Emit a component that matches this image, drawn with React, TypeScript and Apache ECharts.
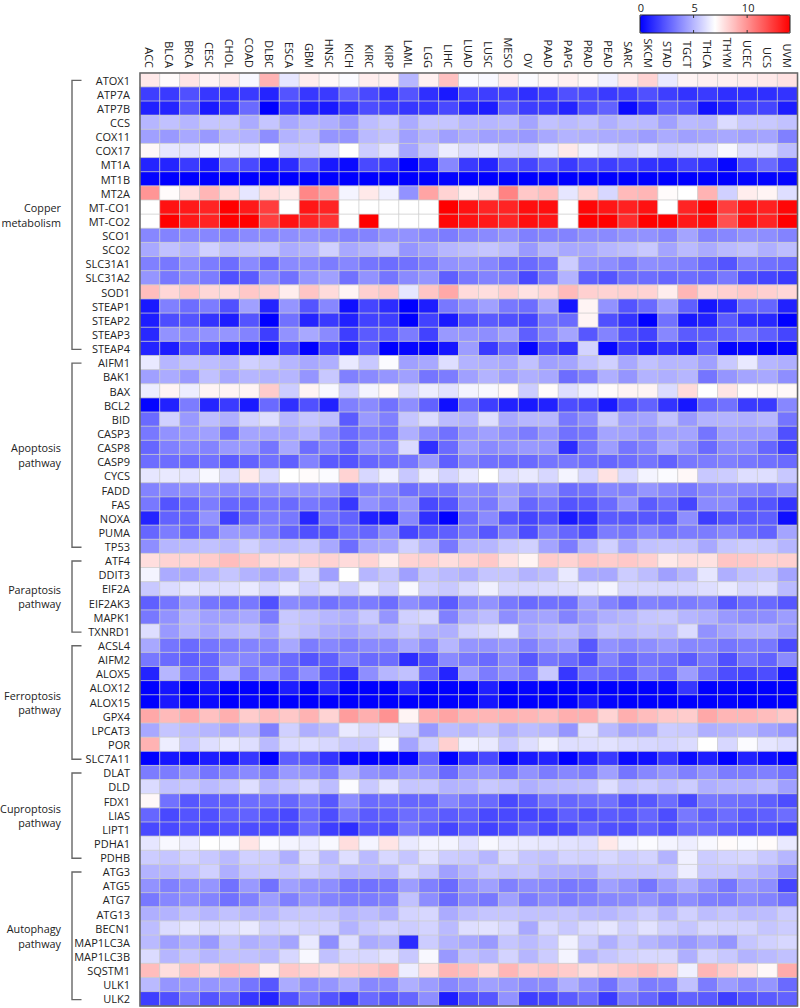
import React, { useEffect, useRef } from "react";
import * as echarts from "echarts";

const cancers = ["ACC","BLCA","BRCA","CESC","CHOL","COAD","DLBC","ESCA","GBM","HNSC","KICH","KIRC","KIRP","LAML","LGG","LIHC","LUAD","LUSC","MESO","OV","PAAD","PAPG","PRAD","PEAD","SARC","SKCM","STAD","TGCT","THCA","THYM","UCEC","UCS","UVM"];

const copperGenes = ["ATOX1","ATP7A","ATP7B","CCS","COX11","COX17","MT1A","MT1B","MT2A","MT-CO1","MT-CO2","SCO1","SCO2","SLC31A1","SLC31A2","SOD1","STEAP1","STEAP2","STEAP3","STEAP4"];
const apoptosisGenes = ["AIFM1","BAK1","BAX","BCL2","BID","CASP3","CASP8","CASP9","CYCS","FADD","FAS","NOXA","PUMA","TP53"];
const paraptosisGenes = ["ATF4","DDIT3","EIF2A","EIF2AK3","MAPK1","TXNRD1"];
const ferroptosisGenes = ["ACSL4","AIFM2","ALOX5","ALOX12","ALOX15","GPX4","LPCAT3","POR","SLC7A11"];
const cuproptosisGenes = ["DLAT","DLD","FDX1","LIAS","LIPT1","PDHA1","PDHB"];
const autophagyGenes = ["ATG3","ATG5","ATG7","ATG13","BECN1","MAP1LC3A","MAP1LC3B","SQSTM1","ULK1","ULK2"];

const copperValues = [
[7.6,7.1,7.7,7.3,7.6,6.8,9.1,6.3,7.5,7.2,6.9,7.5,7.4,5.0,7.4,8.7,6.9,6.8,7.5,6.9,7.2,7.4,7.2,6.6,7.6,8.2,6.4,7.3,7.4,7.4,7.5,7.6,7.8],
[1.7,1.6,2.2,1.5,1.4,1.6,1.0,2.3,1.5,1.6,2.7,2.0,1.4,2.3,1.3,0.7,1.8,1.7,1.7,1.3,1.6,2.2,2.0,1.6,1.7,2.2,1.7,1.4,1.6,1.3,1.3,1.3,1.4],
[0.9,1.0,2.3,0.7,1.4,2.9,0,1.6,1.0,0.7,1.4,2.1,1.8,1.5,1.5,2.0,1.1,0.8,2.5,1.7,1.6,1.0,2.1,2.7,0.3,1.3,2.6,2.2,0.5,0.9,1.9,1.9,0.8],
[5.0,5.3,5.0,5.4,5.4,4.7,5.4,4.6,5.0,4.8,4.2,5.2,5.5,4.7,5.4,5.4,5.0,5.0,5.1,4.5,5.3,5.1,5.3,4.8,5.2,5.1,4.4,5.1,5.0,6.0,5.5,5.5,5.3],
[4.4,4.2,4.6,4.2,5.0,4.9,3.9,4.9,5.2,4.1,4.1,5.1,5.3,4.4,4.9,4.4,4.7,4.4,4.4,4.2,4.6,4.9,4.8,4.7,4.6,4.3,4.7,4.4,4.5,4.6,4.4,4.5,3.5],
[7.2,6.3,6.2,6.7,6.4,6.2,6.9,5.6,5.6,6.0,7.0,5.6,6.2,4.5,5.5,6.5,6.0,6.3,5.8,5.7,6.4,7.6,6.6,6.2,5.8,6.2,5.7,5.9,6.1,6.8,6.1,6.0,5.2],
[1.0,1.0,1.6,0.7,2.6,2.0,0.7,1.2,2.6,0.7,0.3,2.0,1.6,0,1.0,3.7,1.6,1.0,2.5,1.9,2.5,1.6,2.1,1.7,1.9,1.4,1.2,1.8,1.4,0.2,2.1,2.9,1.8],
[0.1,0,0,0,0,0,0,0,0,0,0,0,0,0,0,0.1,0,0,0,0,0,0,0,0,0,0,0,0,0,0,0.1,0.1,0.1],
[9.9,7.1,7.9,9.0,8.0,6.3,8.0,7.6,10.3,9.6,6.7,7.6,6.6,4.0,9.5,8.2,7.5,7.9,10.4,8.5,8.8,6.3,8.2,5.9,8.9,9.0,7.1,7,9.1,5.7,7.5,7.3,6.1],
[7,13.5,13.3,13,14,13.3,12.3,7,13.4,13,7,7,7,7,7,14,13.5,13,13,13.6,13.6,7,13.8,13.4,13.1,13.5,7,13,13.8,12.3,13.3,13.1,13.8],
[7,14,13.3,13,14,14,12.3,13.5,13,12.6,7,14,7,7,7,13.8,13.5,13.3,13,13.6,13.4,7,14,14,12.8,14,14,13.3,13.6,11.8,13.4,13,14],
[3.7,3.6,3.8,3.7,3.5,3.8,3.8,3.9,4.0,3.8,3.6,3.6,4.0,4.0,3.7,3.4,3.7,3.8,4.0,3.5,3.6,3.6,3.9,3.8,4.0,4.0,3.7,4.5,3.6,3.7,4.0,3.9,3.6],
[4.6,5.3,4.9,5.7,5.2,5.3,5.4,4.7,4.9,5.7,4.6,4.9,5.3,4.1,4.5,5.0,5.2,5.4,5.1,4.2,5.0,4.6,4.6,5.0,5.2,5.5,4.5,5.1,4.7,5.1,5.3,4.8,5.2],
[3.5,3.3,3.9,3.4,3.0,3.8,2.9,3.8,3.8,3.4,3.7,3.2,3.0,3.1,3.4,4.0,4.1,3.7,3.1,2.9,3.2,5.6,4.1,3.9,3.4,3.9,3.8,3.5,2.9,2.3,3.4,3.1,2.9],
[4.1,3.3,3.7,3.4,2.2,2.5,3.8,3.1,4.1,4.4,3.1,4.0,3.2,3.8,4.1,2.6,3.3,3.6,3.4,2.0,3.2,4.9,2.6,2.3,3.0,3.0,2.8,3.0,2.8,3.3,2.2,1.9,1.6],
[8.8,8.1,8.6,8.1,8.0,8.5,8.3,7.5,8.6,8.0,7.3,8.3,8.5,6.3,8.6,9.4,8.0,7.9,8.3,7.8,8.1,8.9,8.3,8.2,8.3,8.2,7.5,9.0,8.1,8.3,8.5,8.3,8.1],
[0.7,3.5,3.0,3.4,2.2,4.4,1.0,4.1,2.3,3.7,0.4,1.9,1.2,0,0.8,3.3,3.9,4.4,3.3,3.0,4.4,0.6,7.3,4.0,2.3,2.9,4.3,2.6,0.6,1.1,2.9,2.8,0.9],
[0.8,2.1,2.3,1.4,0.8,2.3,0,3.1,1.0,1.6,0.9,1.8,1.7,0,1.8,0.7,2.1,2.5,2.2,1.9,3.2,2.9,7.3,2.2,1.4,0,3.1,0.7,0.9,2.5,1.3,1.1,0],
[1.1,4.0,3.8,4.0,4.1,3.6,1.7,4.0,4.6,3.8,1.7,2.5,2.5,3.4,1.8,4.2,4.1,3.9,4.4,2.6,3.6,4.5,2.4,3.6,2.3,1.8,3.7,2.5,2.5,2.8,3.2,2.6,1.9],
[1.0,0.8,2.2,1.7,0.6,0.3,0,1.9,0,1.7,0.6,2.5,0,0.2,0.1,0.6,4.3,1.6,2.8,0.2,2.1,1.4,5.8,0.2,1.6,0.8,1.4,0.8,2.7,0.1,0.2,0,0.1],
];

const apoptosisValues = [
[6.4,5.0,5.3,5.2,5.0,5.7,5.5,5.0,4.6,4.8,6.4,5.5,6.9,4.4,4.6,6.1,4.9,4.8,4.6,5.3,4.4,4.5,5.3,5.7,4.6,5.3,5.0,5.0,4.4,5.5,6.4,5.0,4.8],
[4.4,4.7,4.2,5.3,4.6,5.0,4.9,5.0,4.1,5.5,3.5,3.8,4.1,4.4,3.2,3.4,4.4,4.9,4.4,4.8,4.6,3.0,3.5,4.8,4.1,4.9,4.8,5.0,3.2,4.1,4.5,4.6,3.9],
[6.5,7.3,6.5,7.3,7.3,7.3,8.4,5.6,7.3,6.8,5.7,6.7,7.2,5.9,6.5,6.2,6.7,6.8,7.2,5.6,7.1,6.1,6.6,7.1,7.3,7.3,6.0,8.0,7,7.7,7.1,7.2,7.2],
[0.1,0.9,3.4,1.0,1.6,0.7,2.9,1.3,2.2,0.9,3.5,3.8,3.1,3.9,2.7,0.4,2.9,1.7,0.9,0.7,0.9,2.1,1.9,0.7,2.2,2.7,1.4,0.6,2.7,3.1,1.6,1.6,3.7],
[2.9,5.7,4.2,5.2,4.8,5.7,6.1,5.0,5.4,5.2,2.5,4.2,3.5,5.4,6.0,5.1,4.9,6.1,4.6,5.0,5.0,3.3,3.9,5.5,4.4,4.5,5.3,4.2,4.9,4.9,4.8,5.0,3.2],
[3.3,4.0,4.2,4.4,3.2,4.5,4.5,4.5,4.9,3.9,2.9,3.4,3.2,4.8,3.8,3.1,4.1,4.4,3.9,3.4,4.1,3.1,3.2,4.5,4.4,3.9,4.4,4.5,3.2,4.4,4.2,4.2,2.2],
[2.8,3.5,3.8,3.6,4.2,4.2,3.2,4.6,3.0,3.6,2.6,3.9,3.6,6.0,1.3,2.9,4.3,3.8,4.0,4.2,4.1,1.2,3.2,4.3,3.2,3.6,4.6,3.9,2.9,3.8,3.7,2.8,1.7],
[3.0,3.0,2.9,3.1,2.5,2.7,3.1,2.6,3.6,2.5,2.3,2.8,3.0,3.2,4.2,2.6,3.5,3.1,3.0,2.9,3.2,3.3,3.0,2.8,3.0,3.2,2.7,3.3,3.4,3.5,3.3,3.1,2.9],
[6.3,6.4,6.3,6.8,6.1,7.6,6.1,7,7.1,6.9,8.2,5.9,6.6,5.5,6.5,5.8,6.4,7,6.1,6.4,5.9,6.7,5.9,7.8,6.0,6.7,6.9,7.2,5.5,5.6,6.1,6.1,5.5],
[3.6,3.8,3.9,3.9,3.7,3.8,3.9,4.1,4.0,4.0,3.0,3.6,3.8,3.0,3.3,3.2,3.9,3.7,4.4,3.7,4.0,3.0,3.1,3.7,3.5,4.1,3.7,3.3,3.7,3.8,3.7,3.4,3.9],
[3.3,2.3,2.8,3.4,2.8,2.8,3.2,2.9,3.3,3.0,1.5,4.0,3.5,4.1,2.0,2.3,3.7,3.3,4.4,2.8,3.2,2.3,2.4,2.9,4.0,2.5,3.0,1.9,3.8,3.8,2.5,2.3,1.4],
[1.0,2.7,2.8,4.0,1.7,2.8,3.4,3.3,1.1,3.2,2.7,0.9,0.6,3.7,1.3,0,3.0,3.8,2.3,1.9,2.2,0.7,1.2,2.5,2.4,2.4,2.3,3.9,1.7,2.3,2.5,2.6,0.4],
[2.8,3.4,2.8,3.2,4.2,4.0,3.6,2.7,2.2,2.3,3.1,2.8,3.8,1.9,2.5,2.6,3.2,2.4,3.4,2.1,3.4,2.8,2.1,3.4,3.2,3.7,3.2,3.4,3.4,3.7,3.1,2.7,4.5],
[3.9,5.0,5.1,5.3,5.1,5.7,5.2,5.2,5.4,4.6,3.0,4.5,4.6,5.7,4.9,3.3,4.9,5.0,5.5,5.7,4.5,3.4,4.9,5.7,4.6,5.3,5.4,5.3,4.6,5.4,5.6,5.5,5.0],
];

const paraptosisValues = [
[7.9,8.2,8.2,8.4,8.8,8.5,8.0,7.9,8.2,8.2,8.0,8.2,7.5,8.2,8.3,7.9,8.2,8.5,7.8,7.3,8.4,8.2,8.6,8.4,8.5,8.3,7.6,7.9,7.8,8.6,8.5,8.3,8.3],
[6.7,4.7,4.6,5.0,5.4,4.9,4.5,4.8,6.0,4.4,7,5.0,5.4,4.4,5.4,5.1,4.8,5.4,5.4,4.9,5.2,6.4,4.7,4.6,5.6,5.2,4.4,5.0,6.3,4.8,5.3,5.4,4.5],
[5.5,6.0,6.3,6.1,6.1,6.4,5.9,6.4,5.7,6.1,5.6,6.4,5.7,6.8,5.7,5.5,6.0,6.6,5.9,5.9,6,6.1,6.4,6.7,5.9,5.9,5.9,5.9,6.1,6.4,5.9,6.1,5.1],
[2.6,3.2,4.2,3.2,3.1,3.3,2.2,3.8,3.6,3.1,3.4,3.4,3.0,3.9,3.4,2.5,3.7,4.0,3.3,2.9,3.1,3.0,4.4,3.6,3.0,3.6,3.4,3.4,3.6,2.4,3.0,2.9,2.4],
[3.3,4.0,4.9,4.4,4.4,4.6,3.4,5.5,5.3,5.0,4.8,5.5,4.1,5.7,5.9,3.5,4.8,5.2,3.9,4.4,4.5,3.6,4.3,4.8,5.0,5.4,5.5,5.0,4.8,4.2,3.9,3.9,4.3],
[6.1,4.2,4.9,4.5,5.0,5.2,4.5,5.5,5.2,4.7,4.5,4.9,5.1,5.5,4.9,4.8,5.7,6.0,6.4,4.6,5.0,5.2,4.6,5.3,5.1,5.3,5.1,6.0,4.0,4.5,4.8,4.8,4.2],
];

const ferroptosisValues = [
[4.6,3.2,2.9,3.2,3.4,3.6,3.7,4.6,3.4,3.7,3.4,3.8,3.8,4.6,3.8,5.0,4.1,4.0,4.2,3.5,4.2,4.4,2.4,4,3.7,3.9,4.2,3.7,3.7,3.2,3.4,3.3,2.0],
[3.3,2.9,2.6,2.8,3.7,3.7,3.1,2.9,2.3,2.6,3.5,2.9,3.0,1.2,2.2,3.8,3.3,2.9,3.7,2.4,3.2,2.9,2.2,3.6,2.8,3.2,3.1,2.5,3.2,2.2,3.2,2.7,3.8],
[1.0,5.0,3.2,2.9,4.9,3.2,4.0,2.9,3.9,2.4,1.5,3.9,5.0,5.3,2.8,1.0,4.4,3.4,3.9,3.3,5.5,1.5,3.2,2.9,2.6,3.5,2.9,4.3,3.0,2.1,1.9,2.1,0.7],
[0,0.6,0,0.6,0,0,0,0.8,0.1,1.3,0,0,0,1.2,0,0,0,0.9,0,0.1,0,0,0,0,0,0,0.1,1.5,0,0.1,0,0,0],
[0,0.7,0.2,0.3,0,0.1,0,0,0,0,0,0,0,0,0,0,0.1,0.6,0,0,0,0,0.7,0.1,0,0,0,0,0,0.1,0,0,0],
[9.4,8.9,9.3,8.7,9.2,8.4,8.8,8.5,9.1,8.2,9.7,9.2,10.0,7.3,9.2,9.5,9.0,9.0,9.1,9.0,8.8,9.2,9.2,8.2,9.2,8.8,8.5,8.4,9.4,9.0,9.0,8.8,8.5],
[4.6,5.4,5.2,5.0,4.6,5.1,3.5,5.7,4.8,5.1,6.4,5.9,6.2,5.7,4.2,5.2,5.0,5.4,4.8,5.2,5.0,4.1,6.2,5.1,4.5,4.6,5.6,5.5,4.8,4.9,5.0,4.5,4.1],
[9.1,6.5,5.5,6.1,6.4,6.1,5.1,6.0,6.1,5.9,5.5,5.5,6.9,4.5,5.7,8.3,6.6,6.4,5.5,6.1,6.6,6.1,6.1,6.2,6.0,5.9,5.8,6.0,7,5.9,6.9,6.3,6.1],
[0,0.6,0.4,0.8,0.6,1.5,0,2.6,2.4,1.4,0.2,0,0,0.1,2.8,0,1.3,2.0,0.1,0.7,1.0,0,0.8,1.6,0.3,0.4,1.4,0.3,0.8,0,0.9,0.4,0],
];

const cuproptosisValues = [
[3.4,3.4,3.9,3.2,3.5,3.8,3.3,4.2,4.0,3.5,4.9,4.0,3.7,4.2,3.9,2.9,4.0,4.0,3.3,4.0,3.4,3.7,3.4,4.4,3.2,3.7,4.1,3.5,4.0,3.4,3.4,3.5,3.1],
[6.0,5.3,5.5,5.1,5.4,6.1,5.1,5.5,5.9,5.2,6.9,5.5,6.3,5.4,5.5,4.9,5.0,5.5,5.3,4.8,5.1,5.2,5.3,6.1,5.4,5.6,5.3,5.6,4.8,5.0,5.0,5.2,4.4],
[7.2,3.1,2.4,2.6,2.6,3.0,3.0,2.8,3.3,2.4,3.9,2.9,3.0,2.8,2.8,3.7,3.1,2.9,2.0,2.4,3.1,2.8,3.0,3.1,2.2,2.4,3.0,2.0,3.3,3.1,3.0,2.6,2.1],
[2.8,2.0,2.3,2.2,2.6,2.7,2.3,2.0,2.9,2.1,3.2,2.5,2.6,3.0,2.9,2.5,2.6,2.0,2.0,1.9,2.0,2.6,2.2,2.5,2.4,2.8,2.1,3.3,2.6,3.0,2.5,2.6,3.0],
[2.0,2.0,2.2,2.0,2.2,2.1,2.0,2.0,3.0,1.7,1.3,2.3,2.1,3.3,2.6,1.9,2.4,1.8,2.0,2.6,1.9,2.0,2.8,2.2,2.1,2.6,2.2,2.9,2.9,2.5,2.2,2.2,1.7],
[6.3,6.8,6.5,7,6.9,7.7,6.9,6.7,6.5,6.8,7.9,6.7,7.7,6.4,6.7,6.7,6.2,6.8,6.5,6.4,6.3,6.2,6.1,7.6,6.7,6.9,6.7,6.5,6.8,7.1,6.9,7.1,6.4],
[5.6,5.4,5.8,5.5,5.1,5.7,5.6,4.8,6.1,5.1,6.1,5.1,5.9,5.4,6.2,5.6,5.5,5.0,6.0,5.4,5.3,5.8,5.7,5.9,5.6,5.8,4.9,6.6,5.6,5.8,5.9,5.5,5.0],
];

const autophagyValues = [
[4.9,5.0,5.3,5.7,4.8,5.4,5.5,5.4,5.7,5.4,5.0,5.1,4.9,5.9,5.4,4.4,5.0,5.5,5.3,5.4,4.9,4.8,4.6,5.4,5.4,5.4,5.5,6.5,5.5,5.5,5.2,4.8,3.9],
[4.0,3.5,3.9,4.1,3.1,4.2,3.1,4.4,4.0,3.9,3.2,3.1,3.2,4.3,3.5,2.9,4.0,4.4,3.5,3.9,3.7,3.3,3.4,4.4,4,3.2,4.2,4.8,4.0,3.2,4.2,3.9,1.9],
[3.3,3.7,3.9,3.6,3.1,3.5,4.3,3.5,4.1,3.6,3.4,3.4,3.5,5.3,3.9,3.0,3.7,3.3,4.4,3.4,3.8,3.3,3.5,3.7,3.8,4,3.5,3.9,3.5,3.4,3.8,3.6,3.1],
[4.8,4.9,5.3,5.0,5.3,5.0,5.0,5.4,5.5,5.4,5.0,5.2,4.8,5.8,5.9,4.7,5.2,5.4,5.4,5.3,5.3,5.4,5.1,5.0,5.3,5.6,5.0,5.7,5.2,5.4,5.1,5.2,5.6],
[5.2,6.0,6.3,6.0,6.1,6.4,5.7,5.9,5.7,5.8,4.9,5.5,5.8,5.6,5.8,5.1,6.1,6.2,5.9,4.6,5.9,5.5,6.0,6.3,5.7,6.2,5.7,5.4,5.9,5.8,5.8,5.4,5.6],
[5.1,4.4,4.8,4.2,5.3,4.8,5.0,4.5,6.4,3.9,6.1,4.7,4.9,1.2,5.6,4.9,4.6,4.2,5.4,5.1,5.5,6.6,5.6,4.8,5.5,5.0,4.6,4.2,4.6,4.1,5.4,5.7,5.9],
[6.0,5.0,5.4,5.0,5.3,5.3,5.1,5.9,6.8,5.3,5.9,5.9,6.2,5.5,6.8,4.2,5.3,5.0,5.8,5.0,5.6,6.7,4.9,5.4,5.7,5.9,5.9,4.8,5.8,5.5,4.9,5.1,5.3],
[8.8,7.9,8.7,8.1,8.8,8.6,7.5,8.5,8.2,7.9,8.4,8.5,8.9,6.5,7.9,9.0,8.7,8.1,9.0,8.4,8.6,8.4,7.9,8.3,8.6,8.8,8.3,6.6,9.0,8.4,7.8,7.2,9.3],
[5.1,4.1,4.2,4.1,4.2,3.2,2.4,4.7,3.9,4.1,4.7,3.7,3.8,4.8,4.3,3.7,4.0,4.4,4.2,3.8,3.8,4.8,4,3.1,4.4,3.4,3.5,5.3,3.4,4.3,3.8,4.1,2.9],
[1.7,2.2,3.2,2.3,2.7,1.5,1.0,2.2,3.3,2.3,1.7,2.9,2.4,2.8,3.9,0.8,2.2,2.4,4.0,1.7,1.9,2.5,3.0,1.6,3.3,2.8,2.0,2.7,2.5,1.7,2.3,2.5,2.7],
];

const groupLabels = ["Copper\nmetabolism","Apoptosis\npathway","Paraptosis\npathway","Ferroptosis\npathway","Cuproptosis\npathway","Autophagy\npathway"];
const groupGenes = [copperGenes, apoptosisGenes, paraptosisGenes, ferroptosisGenes, cuproptosisGenes, autophagyGenes];
const groupValues = [copperValues, apoptosisValues, paraptosisValues, ferroptosisValues, cuproptosisValues, autophagyValues];
const colorbarTicks = [0, 5, 10];

const FONT = "'Open Sans', 'Noto Sans', sans-serif";

export default function App() {
  const ref = useRef<HTMLDivElement>(null);
  useEffect(() => {
    const chart = echarts.init(ref.current!, undefined, { renderer: "svg" });
    const genes = groupGenes.flat();
    const rows = groupValues.flat();
    const data: number[][] = [];
    rows.forEach((r, y) => r.forEach((v, x) => data.push([x, y, v])));

    const gl = 140, gt = 73, gw = 657.5, gh = 933;
    const rowH = gh / genes.length;
    const vmin = 0, vmax = 14;
    const barL = 640, barT = 15, barW = 150, barH = 18;

    const graphics: any[] = [
      { type: "rect", z: 100, silent: true, shape: { x: gl, y: gt, width: gw, height: gh }, style: { fill: "none", stroke: "#666", lineWidth: 1.5 } },
      { type: "rect", z: 100, silent: true, shape: { x: barL, y: barT, width: barW, height: barH }, style: { fill: "none", stroke: "#222", lineWidth: 1 } },
    ];
    colorbarTicks.forEach((t) => {
      const x = barL + (t - vmin) / (vmax - vmin) * barW;
      graphics.push({ type: "text", z: 100, x: x + 1, y: 7, style: { text: String(t), font: `11px ${FONT}`, fill: "#222", align: "center", verticalAlign: "middle" } });
      if (t !== 0) {
        graphics.push({ type: "line", z: 100, shape: { x1: x, y1: barT, x2: x, y2: barT + 3 }, style: { stroke: "#333", lineWidth: 1 } });
        graphics.push({ type: "line", z: 100, shape: { x1: x, y1: barT + barH - 3, x2: x, y2: barT + barH }, style: { stroke: "#333", lineWidth: 1 } });
      }
    });

    let start = 0;
    groupGenes.forEach((g, i) => {
      const y1 = gt + (start + 0.5) * rowH + 0.3;
      const y2 = gt + (start + g.length - 0.5) * rowH + 0.7;
      start += g.length;
      graphics.push({
        type: "polyline", z: 100,
        shape: { points: [[81.5, y1], [72, y1], [72, y2], [81.5, y2]] },
        style: { fill: "none", stroke: "#666", lineWidth: 1.4 },
      });
      graphics.push({
        type: "text", z: 100, x: 61, y: (y1 + y2) / 2,
        style: { text: groupLabels[i], font: `10.8px ${FONT}`, fill: "#222", align: "right", verticalAlign: "middle", lineHeight: 14.5 },
      });
    });

    chart.setOption({
      animation: false,
      backgroundColor: "#fff",
      grid: { left: gl, top: gt, width: gw, height: gh },
      xAxis: {
        type: "category", position: "top", data: cancers,
        axisLine: { show: false }, axisTick: { show: false }, splitLine: { show: false },
        axisLabel: { rotate: 90, interval: 0, margin: 5, fontSize: 11, fontFamily: FONT, color: "#222" },
      },
      yAxis: {
        type: "category", inverse: true, data: genes,
        axisLine: { show: false }, axisTick: { show: false }, splitLine: { show: false },
        axisLabel: { interval: 0, margin: 10, fontSize: 11, lineHeight: 13, fontFamily: FONT, color: "#222" },
      },
      visualMap: {
        show: true, type: "continuous", orient: "horizontal", min: vmin, max: vmax,
        left: barL, top: barT, itemWidth: barH, itemHeight: barW, padding: 0,
        calculable: false, realtime: false, hoverLink: false, text: ["", ""], textGap: 0,
        inRange: { color: ["#0000ff", "#ffffff", "#ff0000"] },
        dimension: 2, seriesIndex: 0,
      },
      series: [{
        type: "heatmap", data,
        itemStyle: { borderColor: "rgba(205,205,205,0.75)", borderWidth: 1 },
        emphasis: { disabled: true },
        progressive: 0,
      }],
      graphic: graphics,
    });
    return () => chart.dispose();
  }, []);
  return <div ref={ref} style={{ position: "absolute", left: 0, top: 0, width: 800, height: 1008 }} />;
}
